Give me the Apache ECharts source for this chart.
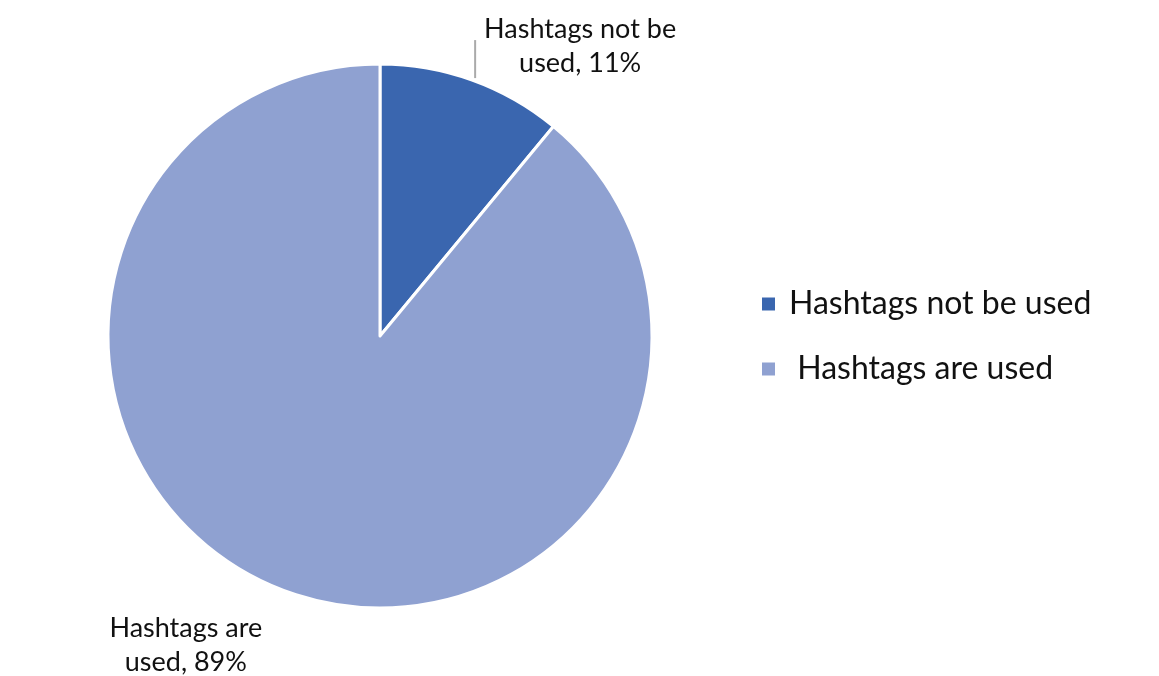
<!DOCTYPE html>
<html>
<head>
<meta charset="utf-8">
<script src="https://cdn.jsdelivr.net/npm/echarts@6/dist/echarts.min.js"></script>
<style>
  html, body { margin: 0; padding: 0; background: #fff; }
  #chart { width: 1159px; height: 676px; }
</style>
</head>
<body>
<div id="chart"></div>
<script>
const categories = ['Hashtags not be used', 'Hashtags are used']
const legendNames = ['Hashtags not be used', ' Hashtags are used']
const labelNames = ['Hashtags not be\nused', 'Hashtags are\nused']
const shares = [11, 89]
const colors = ['#3A66AF', '#8FA1D1']

const chart = echarts.init(document.getElementById('chart'))

chart.setOption({
  animation: false,
  textStyle: { fontFamily: 'Lato' },
  legend: {
    orient: 'vertical',
    left: 755,
    top: 283,
    itemWidth: 15,
    itemHeight: 15,
    itemGap: 33,
    icon: 'rect',
    data: legendNames,
    textStyle: { fontSize: 32, color: '#111', fontFamily: 'Lato', padding: [0, 0, 0, 8] }
  },
  series: [{
    type: 'pie',
    center: [380, 336],
    radius: 272,
    startAngle: 90,
    clockwise: true,
    itemStyle: { borderColor: '#fff', borderWidth: 3 },
    label: {
      show: true,
      position: 'outside',
      fontSize: 27,
      lineHeight: 34,
      align: 'center',
      color: '#111',
      fontFamily: 'Lato',
      formatter: p => labelNames[p.dataIndex] + ', ' + p.value + '%'
    },
    labelLine: { show: true, length: 10, length2: 0, lineStyle: { color: '#aaa', width: 2 } },
    labelLayout: function (params) {
      const lp = params.labelLinePoints
      const x0 = lp[0][0], y0 = lp[0][1]
      if (params.dataIndex === 0) {
        return {
          x: x0 + 108, y: y0 - 34, align: 'center', verticalAlign: 'middle',
          labelLinePoints: [[x0 + 3, y0 - 2], [x0 + 3, y0 - 40], [x0 + 3, y0 - 40]]
        }
      }
      return { x: x0 - 102, y: y0 + 53, align: 'center', verticalAlign: 'middle' }
    },
    data: categories.map((name, i) => ({
      name: legendNames[i],
      value: shares[i],
      itemStyle: { color: colors[i] },
      labelLine: { show: i === 0 }
    }))
  }]
})
</script>
</body>
</html>
